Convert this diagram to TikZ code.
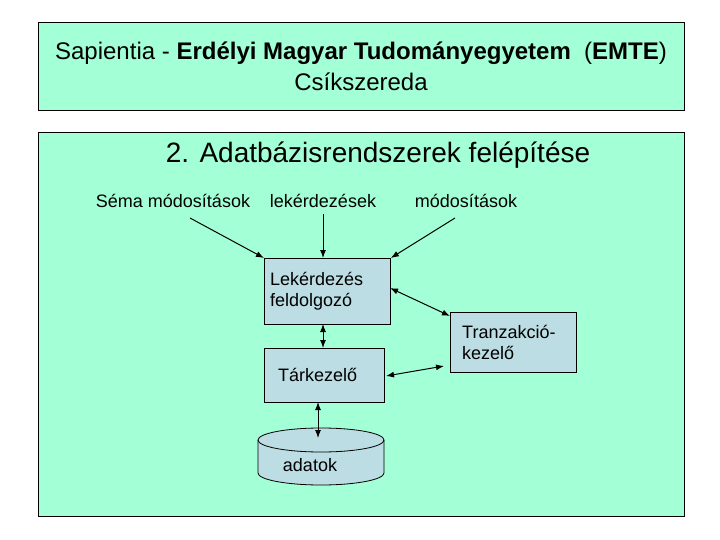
\documentclass[tikz,border=0pt]{standalone}
\usepackage{fontspec}
\setmainfont{Liberation Sans}
\usetikzlibrary{arrows.meta}
\definecolor{bgg}{HTML}{A3FFD6}
\definecolor{boxb}{HTML}{BCDDE3}
\begin{document}
\begin{tikzpicture}[x=1pt,y=-1pt,
 frame/.style={draw=black,fill=bgg,line width=0.6pt},
 proc/.style={draw=black,fill=boxb,line width=0.8pt,inner sep=0pt},
 lab/.style={font=\fontsize{18}{21}\selectfont,inner sep=0pt},
 arr/.style={-{Latex[length=8pt,width=6pt]},line width=1pt},
 darr/.style={{Latex[length=8pt,width=6pt]}-{Latex[length=8pt,width=6pt]},line width=1pt}]
\useasboundingbox (0,0) rectangle (720,540);
\fill[white] (0,0) rectangle (720,540);
\node[frame,minimum width=646pt,minimum height=88pt,anchor=north west] (top) at (38,22) {};
\node[font=\fontsize{24}{31}\selectfont,align=center] (title) at (361,66) {Sapientia - \textbf{Erdélyi Magyar Tudományegyetem} \ (\textbf{EMTE})\\Csíkszereda};
\node[frame,minimum width=646pt,minimum height=384pt,anchor=north west] (main) at (38,132) {};
\node[font=\fontsize{28}{32}\selectfont,inner sep=0pt] (head) at (378,155) {2. Adatbázisrendszerek felépítése};
\node[lab] (l1) at (173,201) {Séma módosítások};
\node[lab] (l2) at (323,201) {lekérdezések};
\node[lab] (l3) at (466,201) {módosítások};
\node[proc,minimum width=126pt,minimum height=66pt,anchor=north west] (lq) at (264,258) {};
\node[lab,align=left,anchor=west] at (270,291) {Lekérdezés\\feldolgozó};
\node[proc,minimum width=126pt,minimum height=60pt,anchor=north west] (tr) at (450,312) {};
\node[lab,align=left,anchor=west] at (462,342) {Tranzakció-\\kezelő};
\node[proc,minimum width=120pt,minimum height=54pt,anchor=north west] (tk) at (264,348) {};
\node[lab,anchor=west] at (278,375) {Tárkezelő};
\draw[line width=0.8pt,fill=boxb] (258,440) -- (258,473) arc[start angle=180,end angle=0,x radius=63,y radius=12] -- (384,440) arc[start angle=0,end angle=-180,x radius=63,y radius=12] -- cycle;
\draw[line width=0.8pt] (258,440) arc[start angle=180,end angle=0,x radius=63,y radius=12];
\node[lab] (ad) at (310,465) {adatok};
\coordinate (adtop) at (318,438);
\coordinate (s1) at (190,218);
\coordinate (s3) at (455,218);
\draw[arr] (s1) -- (lq.north west);
\draw[arr] (l2.south) ++(0,6) -- (323,258);
\draw[arr] (s3) -- (lq.north east);
\draw[darr] (390,288) -- (450,316);
\draw[darr] (386,376) -- (444,366);
\draw[darr] (323,324) -- (323,348);
\draw[darr] (318,402) -- (adtop);
\end{tikzpicture}
\end{document}
